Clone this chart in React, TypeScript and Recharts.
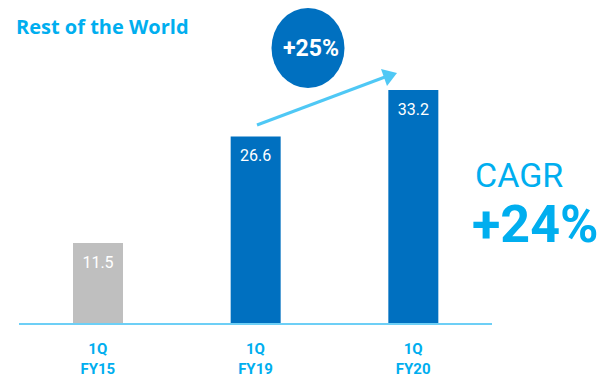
import React from 'react';
import { BarChart, Bar, XAxis, YAxis, Cell, LabelList, Customized } from 'recharts';

const quarters = ['1Q', '1Q', '1Q'];
const years = ['FY15', 'FY19', 'FY20'];
const values = [11.5, 26.6, 33.2];
const barColors = ['#BFBFBF', '#0070C0', '#0070C0'];

const data = years.map((y, i) => ({ name: y, q: quarters[i], value: values[i], color: barColors[i] }));

const FONT = 'Roboto, "DejaVu Sans", sans-serif';
const LIGHT = '#00AEEF';

const Tick = (props: any) => {
  const { x, y, payload, index } = props;
  return (
    <text x={x} y={y} textAnchor="middle" fill={LIGHT} fontFamily={FONT} fontWeight={700} fontSize={15}>
      <tspan x={x} dy={22}>{quarters[index]}</tspan>
      <tspan x={x} dy={20}>{payload.value}</tspan>
    </text>
  );
};

const ValueLabel = (props: any) => {
  const { x, y, width, value } = props;
  return (
    <text x={x + width / 2} y={y + 25} textAnchor="middle" fill="#FFFFFF" fontFamily={FONT} fontSize={16}>
      {value}
    </text>
  );
};

const Overlay = () => (
  <g>
    <text x={16} y={34} fill={LIGHT} fontFamily='"Open Sans", sans-serif' fontWeight={700} fontSize={20}>Rest of the World</text>
    <ellipse cx={308} cy={48} rx={36.5} ry={40} fill="#0070C0" />
    <text x={311} y={56} textAnchor="middle" fill="#FFFFFF" fontFamily={FONT} fontWeight={700} fontSize={23}>+25%</text>
    <line x1={257} y1={125} x2={385} y2={77} stroke="#4FC8F5" strokeWidth={3} />
    <polygon points="397,73 381,69 387,86" fill="#4FC8F5" />
    <text x={475} y={187} fill={LIGHT} fontFamily={FONT} fontSize={34}>CAGR</text>
    <text x={472} y={242} fill={LIGHT} fontFamily={FONT} fontWeight={700} fontSize={52}>+24%</text>
  </g>
);

export default function App() {
  return (
    <div style={{ position: 'absolute', left: 0, top: 0, background: '#fff' }}>
      <BarChart width={604} height={377} data={data} margin={{ top: 42, right: 112, bottom: 0, left: 19 }}>
        <XAxis
          dataKey="name"
          height={53}
          tickLine={false}
          axisLine={{ stroke: '#6DCFF6', strokeWidth: 2 }}
          tick={<Tick />}
          interval={0}
        />
        <YAxis hide domain={[0, 40]} />
        <Bar dataKey="value" barSize={50} isAnimationActive={false}>
          {data.map((d, i) => (
            <Cell key={i} fill={d.color} />
          ))}
          <LabelList dataKey="value" content={<ValueLabel />} />
        </Bar>
        <Customized component={Overlay} />
      </BarChart>
    </div>
  );
}
